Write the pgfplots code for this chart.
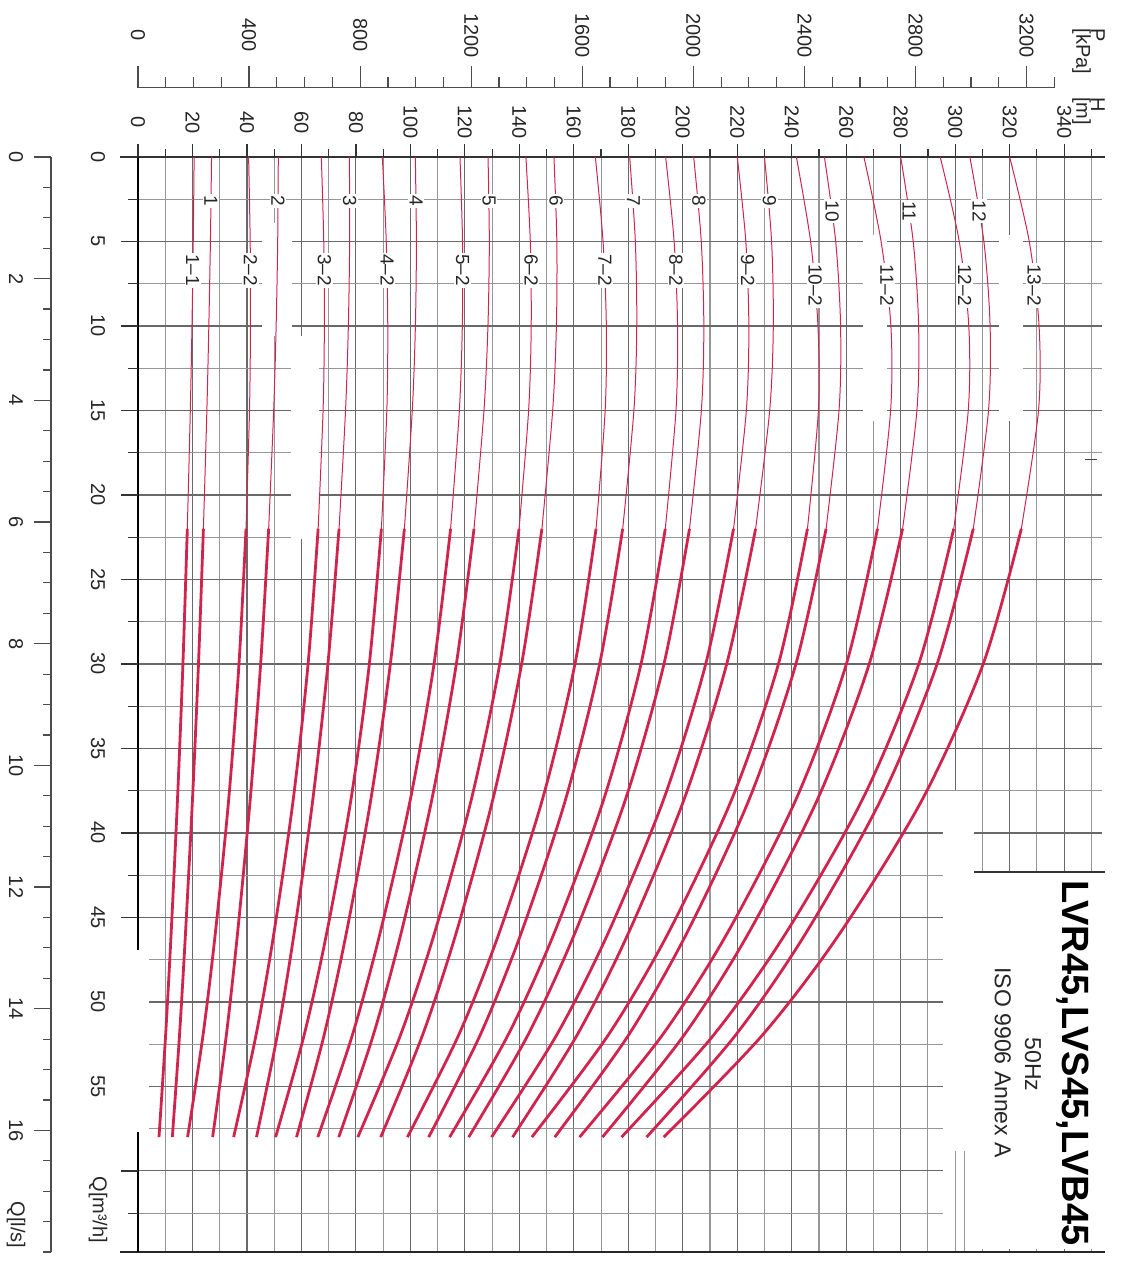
\documentclass[border=0pt]{standalone}
\usepackage{fontspec}
\setmainfont{Liberation Sans}
\usepackage{pgfplots}
\usepackage{pgfplotstable}
\pgfplotsset{compat=1.18}
\definecolor{curve}{RGB}{208,36,78}
\definecolor{gridmaj}{RGB}{105,105,105}
\definecolor{gridmin}{RGB}{150,150,150}
\newcommand{\tickfont}{\fontsize{10}{12}\selectfont}
\newcommand{\labfont}{\fontsize{9.5}{11}\selectfont}

% columns: 1-1, 1, 2-2, 2, 3-2, 3, 4-2, 4, 5-2, 5, 6-2, 6, 7-2, 7, 8-2, 8, 9-2, 9, 10-2, 10, 11-2, 11, 12-2, 12, 13-2
\pgfplotstableread{
Q k1 k2 k3 k4 k5 k6 k7 k8 k9 k10 k11 k12 k13 k14 k15 k16 k17 k18 k19 k20 k21 k22 k23 k24 k25
0 20.6 27.0 40.6 51.5 67.3 77.6 89.7 101.8 118.2 128.5 142.4 152.7 167.9 180.5 193.7 204.0 220.0 230.0 241.7 252.0 266.5 280.0 294.5 305.4 320.0
5 20.28 26.58 41.18 51.28 68.19 77.69 91.14 102.20 119.13 128.97 144.02 153.76 170.73 182.58 196.82 206.78 223.14 232.60 246.92 256.14 272.8 284.59 301.5 310.54 327.2
10 19.81 26.00 41.28 50.71 68.41 77.22 91.69 101.83 119.06 128.47 144.35 153.60 171.93 183.10 198.08 207.72 224.25 233.23 249.62 257.93 276.4 286.58 305.0 312.82 330.8
15 19.20 25.28 40.93 49.81 67.94 76.19 91.35 100.69 117.97 127.01 143.40 152.23 171.50 182.05 197.50 206.82 223.33 231.90 249.78 257.36 276.3 285.95 304.8 312.24 330.6
22 18.10 24.01 39.65 47.96 66.13 73.80 89.35 97.79 114.76 123.35 139.89 148.28 168.16 177.94 193.58 202.47 218.64 226.74 245.77 252.61 271.48 280.70 299.46 306.64 324.29
}\thintab

\pgfplotstableread{
Q k1 k2 k3 k4 k5 k6 k7 k8 k9 k10 k11 k12 k13 k14 k15 k16 k17 k18 k19 k20 k21 k22 k23 k24 k25
22 18.10 24.01 39.65 47.96 66.13 73.80 89.35 97.79 114.76 123.35 139.89 148.28 168.16 177.94 193.58 202.47 218.64 226.74 245.77 252.61 271.48 280.70 299.46 306.64 324.29
30 16.49 22.20 37.07 45.02 62.44 69.72 84.92 92.64 108.67 116.86 132.80 140.84 160.42 169.48 184.66 193.09 208.42 216.13 235.12 241.52 260.06 268.44 286.63 293.37 310.29
38 14.5 20.0 33.3 41.2 57.0 64.2 78.2 85.5 100.0 107.9 122.4 130.3 148.5 157.0 171.0 179.0 193.0 200.5 218.0 224.4 241.6 249.5 266.0 272.8 288.0
46 12.14 17.41 28.34 36.50 49.82 57.25 69.18 76.39 88.75 96.48 108.71 116.65 132.41 140.51 152.61 160.20 172.39 179.84 194.41 201.25 216.09 223.89 237.56 244.91 257.41
52 10.12 15.22 23.84 32.40 43.28 51.09 60.92 68.26 78.62 86.30 96.27 104.37 117.60 125.50 135.71 143.01 153.53 161.05 172.47 179.93 192.32 200.30 211.11 219.20 229.02
58 7.7 12.6 18.2 27.4 35.1 43.5 50.5 58.2 66.0 73.7 80.7 89.1 98.9 106.7 114.4 121.4 129.8 137.5 144.6 153.0 162.1 170.5 177.5 186.7 193.0
}\thicktab

\begin{document}
\begin{tikzpicture}
\begin{axis}[
  x=1.362pt, y=8.45pt, y dir=reverse,
  xmin=-50.3, xmax=366.7, ymin=-9.29, ymax=65.33,
  hide axis, clip=false,
]
\pgfplotsextra{
  \path (axis cs:-50.3,-9.29) rectangle (axis cs:366.7,65.33);
  % grid
  \foreach \h in {10,30,...,350} {\draw[gridmin, line width=0.55pt] (axis cs:\h,0) -- (axis cs:\h,64.8);}
  \foreach \h in {20,40,...,340} {\draw[gridmaj, line width=0.55pt] (axis cs:\h,0) -- (axis cs:\h,64.8);}
  \foreach \q in {2.5,7.5,...,62.5} {\draw[gridmin, line width=0.55pt] (axis cs:0,\q) -- (axis cs:354,\q);}
  \foreach \q in {5,10,...,60} {\draw[gridmaj, line width=0.55pt] (axis cs:0,\q) -- (axis cs:354,\q);}
  % white areas
  \fill[white] (axis cs:295.5,37.5) rectangle (axis cs:307,64.6);
  \fill[white] (axis cs:307,42.3) rectangle (axis cs:358,64.6);
  \fill[white] (axis cs:-8,46.9) rectangle (axis cs:4,57.7);
  \fill[white] (axis cs:45.5,3.9) rectangle (axis cs:56.5,10.6);
  \fill[white] (axis cs:56,10.6) rectangle (axis cs:66.5,22.6);
  \fill[white] (axis cs:266,4.6) rectangle (axis cs:275,15.6);
  \fill[white] (axis cs:316,4.6) rectangle (axis cs:325,15.6);
  \draw[black!80, line width=0.7pt] (axis cs:307,42.3) -- (axis cs:355,42.3);
  \draw[gridmin, line width=0.6pt] (axis cs:300,58.8) -- (axis cs:300,64.8);
  \draw[gridmin, line width=0.6pt] (axis cs:303.3,58.8) -- (axis cs:303.3,64.8);
  \draw[black!75, line width=0.9pt] (axis cs:347.5,17.9) -- (axis cs:352,17.9);
  % frame lines
  \draw[black!80, line width=0.9pt] (axis cs:-6.5,0) -- (axis cs:355,0);
  \draw[black!85, line width=0.9pt] (axis cs:-6.5,64.8) -- (axis cs:355,64.8);
  \draw[black, line width=1pt] (axis cs:0,-0.7) -- (axis cs:0,46.9);
  \draw[black, line width=1pt] (axis cs:0,57.7) -- (axis cs:0,64.8);
  % Q ticks on H=0 axis
  \foreach \q in {0,5,...,45,60} {\draw[black!80, line width=0.6pt] (axis cs:-6.2,\q) -- (axis cs:0,\q);}
  \foreach \q in {2.5,7.5,...,42.5,62.5} {\draw[black!80, line width=0.6pt] (axis cs:-3.5,\q) -- (axis cs:0,\q);}
  % H ticks
  \foreach \h in {0,20,...,340} {\draw[black!80, line width=0.6pt] (axis cs:\h,0) -- (axis cs:\h,-0.75);}
  \foreach \h in {10,30,...,350} {\draw[black!80, line width=0.6pt] (axis cs:\h,0) -- (axis cs:\h,-0.45);}
  % P axis
  \draw[black!70, line width=0.7pt] (axis cs:0,-4.1) -- (axis cs:336.4,-4.1);
  \foreach \p in {0,100,...,3300} {\pgfmathsetmacro\hp{\p/9.81}\draw[black!70, line width=0.6pt] (axis cs:\hp,-4.1) -- (axis cs:\hp,-4.75);}
  \foreach \p in {0,400,...,3200} {\pgfmathsetmacro\hp{\p/9.81}\draw[black!70, line width=0.6pt] (axis cs:\hp,-4.1) -- (axis cs:\hp,-5.4);}
  % l/s axis
  \draw[black!70, line width=0.7pt] (axis cs:-31.9,0) -- (axis cs:-31.9,64.8);
  \foreach \l in {0,0.5,...,18} {\pgfmathsetmacro\qq{3.6*\l}\draw[black!70, line width=0.6pt] (axis cs:-31.9,\qq) -- (axis cs:-35,\qq);}
  \foreach \l in {0,2,...,16} {\pgfmathsetmacro\qq{3.6*\l}\draw[black!70, line width=0.6pt] (axis cs:-31.9,\qq) -- (axis cs:-38.2,\qq);}
}
\pgfplotsinvokeforeach{1,...,25}{
  \addplot[curve, line width=0.5pt, smooth, no markers] table[x=k#1, y=Q] {\thintab};
  \addplot[curve, line width=1.4pt, smooth, no markers] table[x=k#1, y=Q] {\thicktab};
}
\pgfplotsextra{
  % curve labels
  \foreach \h/\q/\t in {26.8/2.6/1, 51.4/2.6/2, 77.7/2.6/3, 102.1/2.6/4, 128.9/2.6/5, 153.5/2.6/6, 181.9/2.6/7, 205.9/2.6/8, 231.8/2.6/9, 254.8/3.2/10, 283.1/3.2/11, 308.8/3.2/12,
     20.1/6.7/1\textendash1, 41.3/6.7/2\textendash2, 68.4/6.7/3\textendash2, 91.5/6.7/4\textendash2, 119.2/6.7/5\textendash2, 144.3/6.7/6\textendash2, 171.4/6.7/7\textendash2, 197.5/6.7/8\textendash2, 223.8/6.7/9\textendash2,
     248.6/7.6/10\textendash2, 275.0/7.6/11\textendash2, 303.5/7.6/12\textendash2, 329.0/7.6/13\textendash2}
  {\node[fill=white, inner sep=0.8pt, rotate=-90, font=\labfont, text=black!85] at (axis cs:\h,\q) {\t};}
  % tick labels
  \foreach \h in {0,20,...,340} {\node[rotate=-90, font=\tickfont, text=black!85] at (axis cs:\h,-2.05) {\h};}
  \foreach \p in {0,400,...,3200} {\pgfmathsetmacro\hp{\p/9.81}\node[rotate=-90, font=\tickfont, text=black!85] at (axis cs:\hp,-7.2) {\p};}
  \foreach \q in {0,5,...,55} {\node[rotate=-90, font=\tickfont, text=black!85] at (axis cs:-14.7,\q) {\q};}
  \foreach \l in {0,2,...,16} {\pgfmathsetmacro\qq{3.6*\l}\node[rotate=-90, font=\tickfont, text=black!85] at (axis cs:-44.8,\qq) {\l};}
  \node[rotate=-90, font=\tickfont, text=black!85] at (axis cs:-14.7,62.3) {Q[m³/h]};
  \node[rotate=-90, font=\tickfont, text=black!85] at (axis cs:-44.8,63.2) {Q[l/s]};
  \node[rotate=-90, anchor=west, font=\tickfont, text=black!85, inner sep=0pt] at (axis cs:352.4,-7.63) {P};
  \node[rotate=-90, anchor=west, font=\tickfont, text=black!85, inner sep=0pt] at (axis cs:346.4,-7.63) {[kPa]};
  \node[rotate=-90, anchor=west, font=\tickfont, text=black!85, inner sep=0pt] at (axis cs:352.4,-3.55) {H};
  \node[rotate=-90, anchor=west, font=\tickfont, text=black!85, inner sep=0pt] at (axis cs:346.4,-3.55) {[m]};
  % title block
  \node[rotate=-90, font=\fontsize{19}{22}\selectfont\bfseries] at (axis cs:343.2,53.6) {LVR45,LVS45,LVB45};
  \node[rotate=-90, font=\fontsize{11.5}{13}\selectfont, text=black!85] at (axis cs:328.6,53.7) {50Hz};
  \node[rotate=-90, font=\fontsize{11.5}{13}\selectfont, text=black!85] at (axis cs:317.5,53.6) {ISO 9906 Annex A};
}
\end{axis}
\end{tikzpicture}
\end{document}
